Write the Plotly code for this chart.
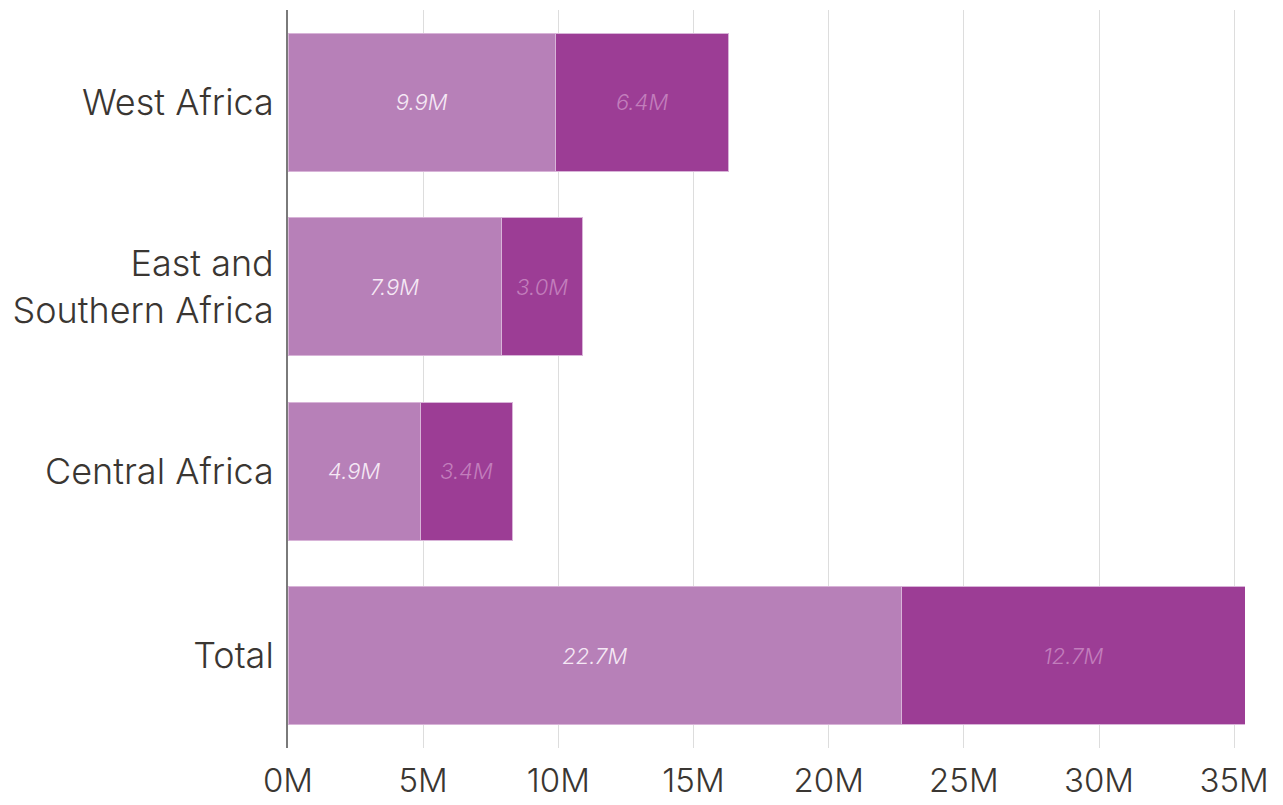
import plotly.graph_objects as go

categories = ["West Africa", "East and<br>Southern Africa", "Central Africa", "Total"]
series_a = [9.9, 7.9, 4.9, 22.7]
series_b = [6.4, 3.0, 3.4, 12.7]
tick_vals = [0, 5, 10, 15, 20, 25, 30, 35]
tick_text = ["0M", "5M", "10M", "15M", "20M", "25M", "30M", "35M"]

FONT = "Inter, Roboto, sans-serif"

fig = go.Figure()
fig.add_trace(go.Bar(
    y=categories, x=series_a, orientation="h", name="Group 1",
    marker=dict(color="#b780b8", line=dict(color="#d8b4d8", width=1)),
    text=[f"{v:.1f}M" for v in series_a], textposition="inside",
    insidetextanchor="middle",
    textfont=dict(family=FONT, size=22, color="#f5e8f5", style="italic", weight=300),
    width=0.75, hoverinfo="skip",
))
fig.add_trace(go.Bar(
    y=categories, x=series_b, orientation="h", name="Group 2",
    marker=dict(color="#9c3d95", line=dict(color="#d8b4d8", width=1)),
    text=[f"{v:.1f}M" for v in series_b], textposition="inside",
    insidetextanchor="middle",
    textfont=dict(family=FONT, size=22, color="#c27ebc", style="italic", weight=300),
    width=0.75, hoverinfo="skip",
))

fig.update_layout(
    width=1283, height=805,
    barmode="stack",
    showlegend=False,
    plot_bgcolor="white", paper_bgcolor="white",
    margin=dict(l=280, r=46, t=2, b=65),
    font=dict(family=FONT, color="#3a3632"),
    uniformtext=dict(mode=False),
)
fig.update_xaxes(
    range=[0, 35.4], tickvals=tick_vals, ticktext=tick_text,
    showgrid=True, gridcolor="#dddddd", gridwidth=1,
    zeroline=False, showline=False, automargin=False,
    tickfont=dict(size=33, color="#3a3632", family=FONT, weight=300),
    ticks="", ticklabelstandoff=10,
)
fig.update_yaxes(
    autorange=False, range=[3.5, -0.5],
    categoryorder="array", categoryarray=categories,
    showline=True, linecolor="#7a7a7a", linewidth=2,
    showgrid=False, ticks="", ticklabelstandoff=5, automargin=False,
    tickfont=dict(size=36, color="#3a3632", family=FONT, weight=300),
)

fig.write_html("out.html")
